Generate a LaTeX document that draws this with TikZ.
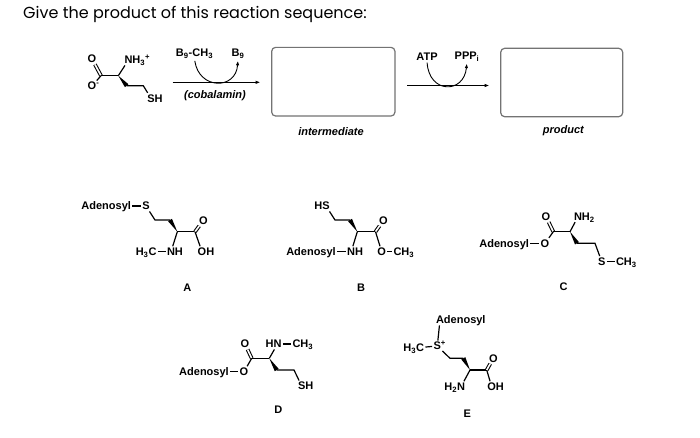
\documentclass[tikz,border=0pt]{standalone}
\usepackage{fontspec}
\setmainfont{Liberation Sans}
\newfontfamily\titlefont{Poppins}
\usetikzlibrary{arrows.meta,calc}
\newcommand{\wedgebond}[2]{\fill ($(#1)$) -- ($(#2)!2.3pt!90:(#1)$) -- ($(#2)!2.3pt!-90:(#1)$) -- cycle;}
\begin{document}
\begin{tikzpicture}[x=1pt,y=-1pt,
  atom/.style={font=\bfseries\fontsize{11}{11}\selectfont, inner sep=1.3pt, text height=7.9pt, text depth=0pt},
  lbl/.style={font=\bfseries\fontsize{11}{11}\selectfont, inner sep=0pt},
  itl/.style={font=\bfseries\itshape\fontsize{11}{11}\selectfont, inner sep=0pt},
  bond/.style={line width=1.2pt},
  dbl/.style={line width=1.05pt, double, double distance=1.6pt},
  rxn/.style={line width=1pt, -{Latex[length=5pt,width=3.6pt]}},
  curv/.style={line width=0.9pt, -{Latex[length=4.5pt,width=3.4pt]}},
  boxst/.style={draw=black!55, line width=1.2pt, rounded corners=4pt, inner sep=0pt}]
\useasboundingbox (0,0) rectangle (700,437);
\fill[white] (0,0) rectangle (700,437);

% title
\node[anchor=base west, inner sep=0pt, font=\titlefont\fontsize{16}{16}\selectfont] (title) at (23,18.3) {Give the product of this reaction sequence:};

% ---------- starting material ----------
\coordinate (sm-c1) at (101,75.7);
\coordinate (sm-ca) at (118.3,75.7);
\coordinate (sm-cb) at (126.7,85.7);
\coordinate (sm-cg) at (143.3,85.7);
\node[atom] (sm-o1) at (92,59) {O};
\node[atom] (sm-o2) at (92,86) {O\rlap{\textsuperscript{-}}};
\node[atom] (sm-n) at (128.5,60) {N\rlap{H\textsubscript{3}\textsuperscript{+}}};
\node[atom] (sm-s) at (151,98.3) {S\rlap{H}};
\draw[dbl] (sm-c1) -- (sm-o1);
\draw[bond] (sm-c1) -- (sm-o2);
\draw[bond] (sm-c1) -- (sm-ca);
\draw[bond] (sm-ca) -- (sm-n);
\wedgebond{sm-ca}{sm-cb}
\draw[bond] (sm-cb) -- (sm-cg) -- (sm-s);

% ---------- first step ----------
\coordinate (r1s) at (172.7,82.3);
\coordinate (r1e) at (260.5,82.3);
\draw[rxn] (r1s) -- (r1e);
\node[lbl] (bme) at (194.5,54) {B\textsubscript{9}-CH\textsubscript{3}};
\node[lbl] (b9) at (238,54) {B\textsubscript{9}};
\draw[curv, shorten <=2pt, shorten >=2pt] (bme.south) .. controls (199,90) and (236,90) .. (b9.south);
\node[itl] (cob) at (215,95.5) {(cobalamin)};

\node[boxst, minimum width=123.3pt, minimum height=68.7pt] (box1) at (333.3,81.7) {};
\node[itl] (int) at (331,131.5) {intermediate};

% ---------- second step ----------
\coordinate (r2s) at (407.3,85.5);
\coordinate (r2e) at (489.5,85.5);
\draw[rxn] (r2s) -- (r2e);
\node[lbl] (atp) at (427,56.7) {ATP};
\node[lbl] (ppp) at (467,56.7) {PPP\textsubscript{i}};
\draw[curv, shorten <=2pt, shorten >=2pt] (atp.south) .. controls (429,94) and (464,94) .. (ppp.south);

\node[boxst, minimum width=122pt, minimum height=68.4pt] (box2) at (561.7,82.5) {};
\node[itl] (prod) at (563.3,131) {product};

% ---------- A ----------
\node[atom] (a-ad) at (106.2,206) {Adenosyl};
\node[atom] (a-s) at (146,206) {S};
\coordinate (a-c1) at (155,220);
\coordinate (a-c2) at (170,220);
\coordinate (a-ca) at (177.3,231.7);
\coordinate (a-cc) at (195,231.7);
\node[atom] (a-o) at (203.3,220.5) {O};
\node[atom] (a-oh) at (202,251.7) {O\rlap{H}};
\node[atom] (a-nh) at (171,251.7) {N\rlap{H}};
\node[atom] (a-me) at (152.5,251.7) {\llap{H\textsubscript{3}}C};
\draw[bond] (a-ad) -- (a-s);
\draw[bond] (a-s) -- (a-c1) -- (a-c2);
\wedgebond{a-ca}{a-c2}
\draw[bond] (a-ca) -- (a-cc);
\draw[dbl] (a-cc) -- (a-o);
\draw[bond] (a-cc) -- (a-oh);
\draw[bond] (a-ca) -- (a-nh);
\draw[bond] (a-me) -- (a-nh);
\node[lbl] (lab-a) at (187.3,288) {A};

% ---------- B ----------
\node[atom] (b-hs) at (326,206) {\llap{H}S};
\coordinate (b-c1) at (335,220);
\coordinate (b-c2) at (350,220);
\coordinate (b-ca) at (357.3,231.7);
\coordinate (b-cc) at (375.5,231.7);
\node[atom] (b-o) at (383.3,220.5) {O};
\node[atom] (b-o2) at (381.7,251.7) {O};
\node[atom] (b-me) at (397.5,251.7) {C\rlap{H\textsubscript{3}}};
\node[atom] (b-nh) at (351.2,251.7) {N\rlap{H}};
\node[atom] (b-ad) at (311,251.7) {Adenosyl};
\draw[bond] (b-hs) -- (b-c1) -- (b-c2);
\wedgebond{b-ca}{b-c2}
\draw[bond] (b-ca) -- (b-cc);
\draw[dbl] (b-cc) -- (b-o);
\draw[bond] (b-cc) -- (b-o2);
\draw[bond] (b-o2) -- (b-me);
\draw[bond] (b-ca) -- (b-nh);
\draw[bond] (b-ad) -- (b-nh);
\node[lbl] (lab-b) at (361,288) {B};

% ---------- C ----------
\node[atom] (c-o) at (546,216.7) {O};
\node[atom] (c-n) at (578,216.7) {N\rlap{H\textsubscript{2}}};
\coordinate (c-cc) at (553.3,231.7);
\coordinate (c-ca) at (570,231.7);
\coordinate (c-c1) at (577,243.3);
\coordinate (c-c2) at (595,243.3);
\node[atom] (c-s) at (601.7,261.5) {S};
\node[atom] (c-me) at (620,261.5) {C\rlap{H\textsubscript{3}}};
\node[atom] (c-o2) at (545,243.3) {O};
\node[atom] (c-ad) at (504.2,243.3) {Adenosyl};
\draw[dbl] (c-cc) -- (c-o);
\draw[bond] (c-cc) -- (c-ca);
\draw[bond] (c-ca) -- (c-n);
\wedgebond{c-ca}{c-c1}
\draw[bond] (c-c1) -- (c-c2) -- (c-s);
\draw[bond] (c-s) -- (c-me);
\draw[bond] (c-cc) -- (c-o2);
\draw[bond] (c-ad) -- (c-o2);
\node[lbl] (lab-c) at (563.5,287) {C};

% ---------- D ----------
\node[atom] (d-o) at (245,344) {O};
\node[atom] (d-n) at (277.5,344) {\llap{H}N};
\node[atom] (d-me) at (296.5,344) {C\rlap{H\textsubscript{3}}};
\coordinate (d-cc) at (251.7,358.3);
\coordinate (d-ca) at (269.3,358.3);
\coordinate (d-c1) at (276.7,370);
\coordinate (d-c2) at (294,370);
\node[atom] (d-s) at (301.7,386) {S\rlap{H}};
\node[atom] (d-o2) at (244,371.7) {O};
\node[atom] (d-ad) at (204,371.7) {Adenosyl};
\draw[dbl] (d-cc) -- (d-o);
\draw[bond] (d-cc) -- (d-ca);
\draw[bond] (d-ca) -- (d-n);
\draw[bond] (d-n) -- (d-me);
\wedgebond{d-ca}{d-c1}
\draw[bond] (d-c1) -- (d-c2) -- (d-s);
\draw[bond] (d-cc) -- (d-o2);
\draw[bond] (d-ad) -- (d-o2);
\node[lbl] (lab-d) at (278.3,409.3) {D};

% ---------- E ----------
\node[atom] (e-a) at (440,320) {A\rlap{denosyl}};
\node[atom] (e-s) at (437.3,346) {S\rlap{\textsuperscript{+}}};
\node[atom] (e-me) at (420,347.5) {\llap{H\textsubscript{3}}C};
\coordinate (e-c1) at (450,358.3);
\coordinate (e-c2) at (463.3,358.3);
\coordinate (e-ca) at (470,370);
\coordinate (e-cc) at (486.7,370);
\node[atom] (e-o) at (493.3,358.3) {O};
\node[atom] (e-oh) at (491.7,386.7) {O\rlap{H}};
\node[atom] (e-n) at (461,386.7) {\llap{H\textsubscript{2}}N};
\draw[bond] (e-a) -- (e-s);
\draw[bond] (e-me) -- (e-s);
\draw[bond] (e-s) -- (e-c1) -- (e-c2);
\wedgebond{e-ca}{e-c2}
\draw[bond] (e-ca) -- (e-cc);
\draw[dbl] (e-cc) -- (e-o);
\draw[bond] (e-cc) -- (e-oh);
\draw[bond] (e-ca) -- (e-n);
\node[lbl] (lab-e) at (467.3,413.3) {E};
\end{tikzpicture}
\end{document}
